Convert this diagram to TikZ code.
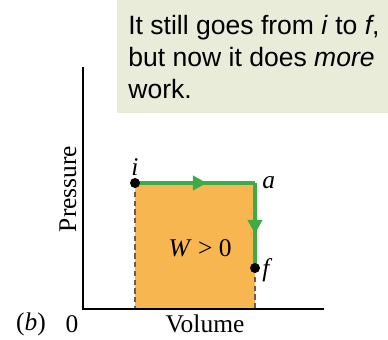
\documentclass[tikz,border=0pt]{standalone}
\usepackage{fontspec}
\setmainfont{Liberation Serif}
\newfontfamily\calloutfont{Liberation Sans}
\usetikzlibrary{arrows.meta,decorations.markings,positioning}
\definecolor{calloutbg}{HTML}{E8ECD9}
\definecolor{workfill}{HTML}{F8B650}
\definecolor{pathgreen}{HTML}{3FAA48}
\definecolor{dashgray}{HTML}{6E5A45}

\begin{document}
\begin{tikzpicture}[x=0.02cm,y=-0.02cm,
  font=\fontsize{14.5}{17}\selectfont,
  axisline/.style={line width=1.1pt},
  pathline/.style={pathgreen,line width=2.3pt,postaction={decorate},
    decoration={markings,mark=at position 0.6 with {\arrow{Triangle[length=8pt,width=8pt]}}}},
  dropline/.style={dashgray,line width=0.7pt,dash pattern=on 3pt off 2pt},
  lbl/.style={inner sep=0pt}]
\useasboundingbox (0,0) rectangle (388,340);
% the callout
\fill[calloutbg] (117,0) rectangle (388,113);
\node[lbl,anchor=north west,align=left,font=\calloutfont\fontsize{15.1}{18.2}\selectfont] (note) at (128,15)
  {It still goes from \textit{i} to \textit{f},\\but now it does \textit{more}\\work.};
% corners of the process
\coordinate (i) at (135,183);
\coordinate (a) at (255,183);
\coordinate (f) at (255,268);
\coordinate (origin) at (83,309);
\coordinate (ytop) at (83,67);
\coordinate (xend) at (324,309);
% work area
\fill[workfill] (i) rectangle (f |- origin);
\draw[dropline] (i) -- (i |- origin);
\draw[dropline] (f) -- (f |- origin);
\draw[axisline] (ytop) -- (origin) -- (xend);
\draw[pathline] (i) -- (a);
\draw[pathline] (a) -- (f);
\foreach \p in {i,f} \fill (\p) circle (0.1cm);
% labels
\node[lbl] (ilbl) at (135,167) {\textit{i}};
\node[lbl,anchor=west] (albl) at (262,183) {\textit{a}};
\node[lbl,anchor=west] (flbl) at (262,270) {\textit{f}};
\node[lbl] (wlbl) at (200,248) {\textit{W} > 0};
\node[lbl,rotate=90] (ylbl) at (68,189) {Pressure};
\node[lbl] (xlbl) at (205,324) {Volume};
\node[lbl] (zero) at (72,324) {0};
\node[lbl] (part) at (31,324) {(\textit{b})};
\end{tikzpicture}
\end{document}
